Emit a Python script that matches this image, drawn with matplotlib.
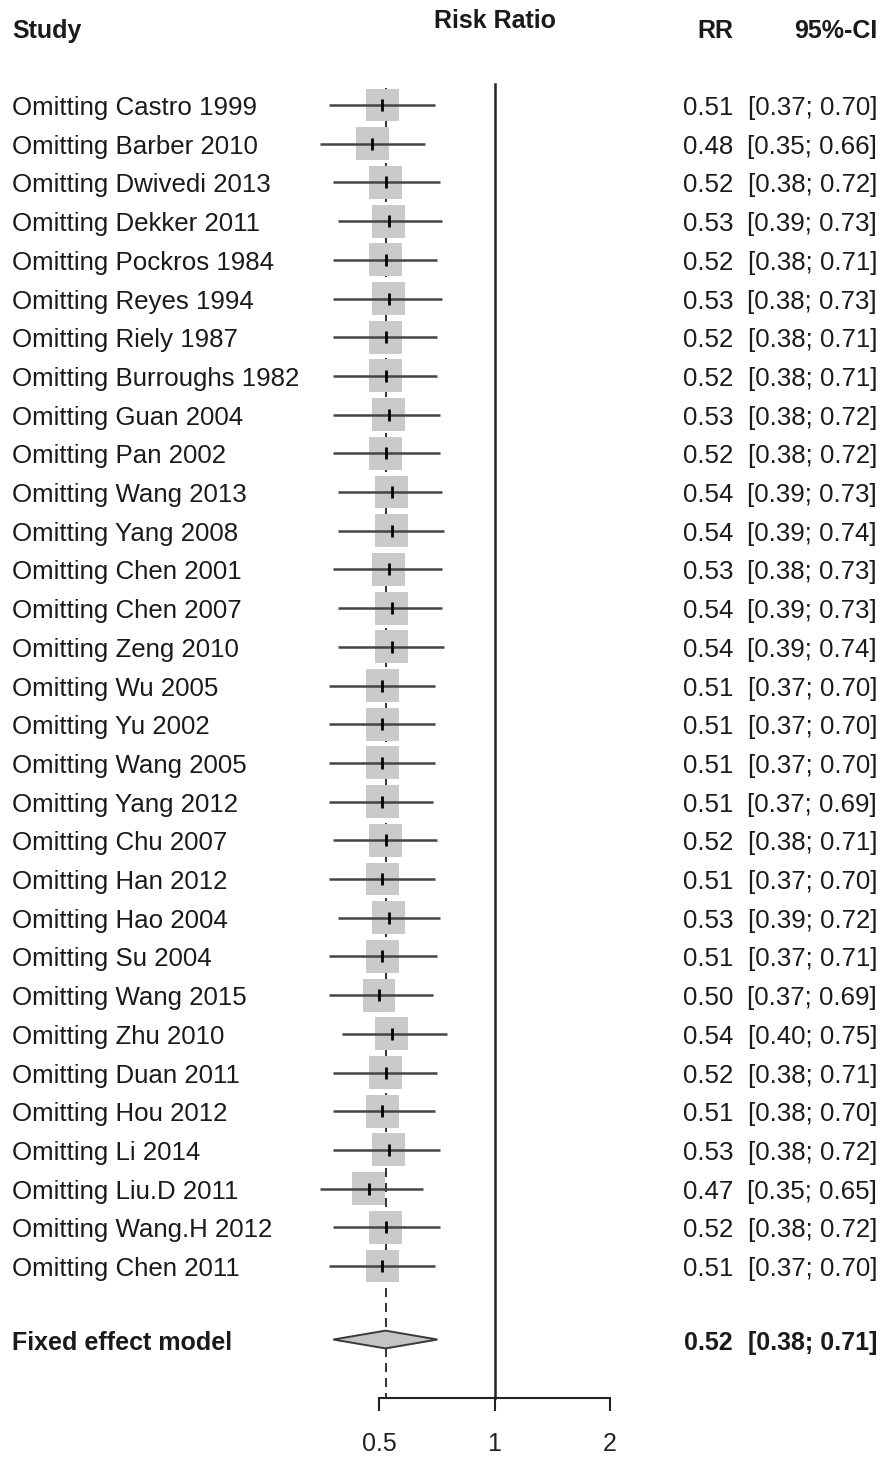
import matplotlib
matplotlib.use("Agg")
import matplotlib.pyplot as plt
import matplotlib.transforms as mtransforms
from matplotlib.ticker import NullLocator
import numpy as np

plt.rcParams['font.family'] = ['Liberation Sans', 'DejaVu Sans']
plt.rcParams['lines.scale_dashes'] = False

# leave-one-out results
studies = ["Castro 1999", "Barber 2010", "Dwivedi 2013", "Dekker 2011", "Pockros 1984",
           "Reyes 1994", "Riely 1987", "Burroughs 1982", "Guan 2004", "Pan 2002",
           "Wang 2013", "Yang 2008", "Chen 2001", "Chen 2007", "Zeng 2010",
           "Wu 2005", "Yu 2002", "Wang 2005", "Yang 2012", "Chu 2007",
           "Han 2012", "Hao 2004", "Su 2004", "Wang 2015", "Zhu 2010",
           "Duan 2011", "Hou 2012", "Li 2014", "Liu.D 2011", "Wang.H 2012",
           "Chen 2011"]
rr = [0.51, 0.48, 0.52, 0.53, 0.52, 0.53, 0.52, 0.52, 0.53, 0.52,
      0.54, 0.54, 0.53, 0.54, 0.54, 0.51, 0.51, 0.51, 0.51, 0.52,
      0.51, 0.53, 0.51, 0.50, 0.54, 0.52, 0.51, 0.53, 0.47, 0.52,
      0.51]
lower = [0.37, 0.35, 0.38, 0.39, 0.38, 0.38, 0.38, 0.38, 0.38, 0.38,
         0.39, 0.39, 0.38, 0.39, 0.39, 0.37, 0.37, 0.37, 0.37, 0.38,
         0.37, 0.39, 0.37, 0.37, 0.40, 0.38, 0.38, 0.38, 0.35, 0.38,
         0.37]
upper = [0.70, 0.66, 0.72, 0.73, 0.71, 0.73, 0.71, 0.71, 0.72, 0.72,
         0.73, 0.74, 0.73, 0.73, 0.74, 0.70, 0.70, 0.70, 0.69, 0.71,
         0.70, 0.72, 0.71, 0.69, 0.75, 0.71, 0.70, 0.72, 0.65, 0.72,
         0.70]
pooled_rr, pooled_lo, pooled_hi = 0.52, 0.38, 0.71
xticks = [0.5, 1, 2]
xtick_labels = ["0.5", "1", "2"]

W, H = 883, 1457
fig = plt.figure(figsize=(W / 100, H / 100), dpi=100)
ax = fig.add_axes([0, 0, 1, 1])
ax.set_xscale('log', base=2)

# pixel geometry of the plot: 0.5 sits at x=379, one doubling = 115.5 px
x05, dbl = 379, 115.5
ax.set_xlim(0.5 * 2 ** (-x05 / dbl), 0.5 * 2 ** ((W - x05) / dbl))
row0, step = 105, 38.7
ax.set_ylim((H - row0) / step, -row0 / step)

n = len(studies)
rows = np.arange(n)
fixed_row = n + 0.9
axis_row = 33.4

# reference lines
ax.plot([pooled_rr, pooled_rr], [-0.44, axis_row], color='#333333', lw=1.4,
        dashes=[6.5, 4.3], zorder=1)
ax.plot([1, 1], [-0.54, axis_row], color='#222222', lw=1.8, zorder=1)

# study squares, CIs and point estimates
ax.scatter(rr, rows, marker='s', s=560, color='#cacaca', edgecolors='none', zorder=2)
ax.hlines(rows, lower, upper, color='#454545', lw=1.8, zorder=3)
ax.plot(rr, rows, ls='none', marker='|', ms=9, mew=2.0, color='black', zorder=4)

# pooled diamond
h = 0.23
ax.fill([pooled_lo, pooled_rr, pooled_hi, pooled_rr],
        [fixed_row, fixed_row - h, fixed_row, fixed_row + h],
        facecolor='#c4c4c4', edgecolor='#3a3a3a', lw=1.4, zorder=3)

# x axis
for side in ['left', 'right', 'top']:
    ax.spines[side].set_visible(False)
ax.spines['bottom'].set_position(('data', axis_row))
ax.spines['bottom'].set_bounds(0.5, 2)
ax.spines['bottom'].set_linewidth(1.5)
ax.spines['bottom'].set_color('#222222')
ax.set_xticks(xticks)
ax.set_xticklabels(xtick_labels)
ax.xaxis.set_minor_locator(NullLocator())
ax.tick_params(axis='x', direction='out', length=9, width=1.5, color='#222222',
               labelsize=18, pad=16, labelcolor='#222222')
ax.set_yticks([])

# text columns
trans = mtransforms.blended_transform_factory(ax.transAxes, ax.transData)
fs = 18.6
fsb = 18.0
off = 0.26
xl, xrr, xci = 12 / W, 733 / W, 877 / W
for i, s in enumerate(studies):
    y = rows[i] + off
    ax.text(xl, y, "Omitting " + s, transform=trans, ha='left', va='baseline', fontsize=fs,
            color='#1a1a1a')
    ax.text(xrr, y, f"{rr[i]:.2f}", transform=trans, ha='right', va='baseline', fontsize=fs,
            color='#1a1a1a')
    ax.text(xci, y, f"[{lower[i]:.2f}; {upper[i]:.2f}]", transform=trans, ha='right',
            va='baseline', fontsize=fs, color='#1a1a1a')

yf = fixed_row + off
ax.text(xl, yf, "Fixed effect model", transform=trans, ha='left', va='baseline',
        fontsize=fsb, fontweight='bold', color='#1a1a1a')
ax.text(xrr, yf, f"{pooled_rr:.2f}", transform=trans, ha='right', va='baseline',
        fontsize=fsb, fontweight='bold', color='#1a1a1a')
ax.text(xci, yf, f"[{pooled_lo:.2f}; {pooled_hi:.2f}]", transform=trans, ha='right',
        va='baseline', fontsize=fsb, fontweight='bold', color='#1a1a1a')

# headers
yh = -2.0 + off
ax.text(xl, yh, "Study", transform=trans, ha='left', va='baseline', fontsize=fsb,
        fontweight='bold', color='#1a1a1a')
ax.text(xrr, yh, "RR", transform=trans, ha='right', va='baseline', fontsize=fsb,
        fontweight='bold', color='#1a1a1a')
ax.text(xci, yh, "95%-CI", transform=trans, ha='right', va='baseline', fontsize=fsb,
        fontweight='bold', color='#1a1a1a')
ax.text(1, -2.25 + off, "Risk Ratio", ha='center', va='baseline', fontsize=fsb,
        fontweight='bold', color='#1a1a1a')

fig.savefig("out.png", dpi=100)
